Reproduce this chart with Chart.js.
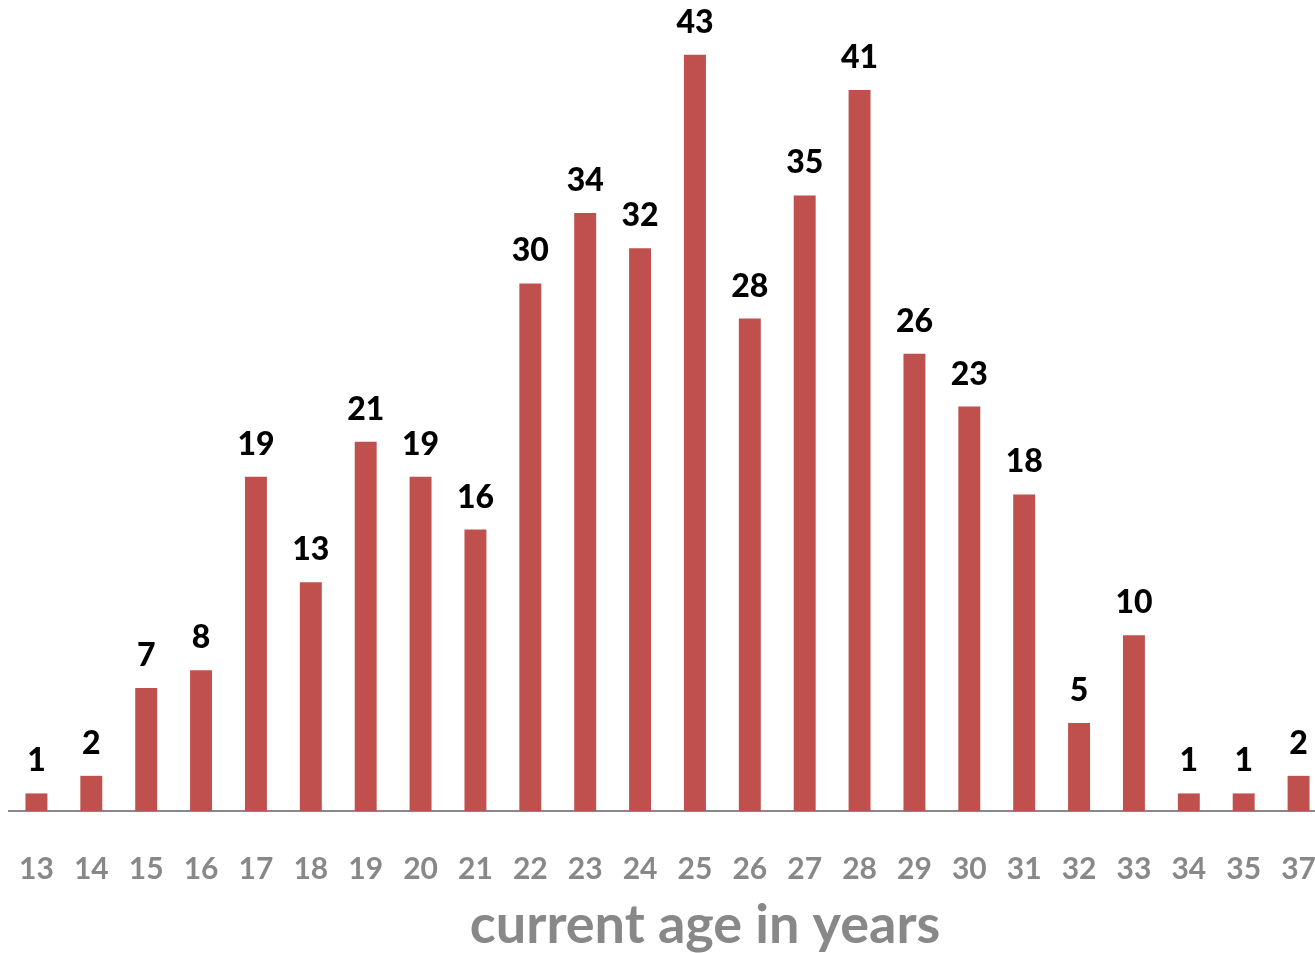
<!DOCTYPE html>
<html>
<head>
<meta charset="utf-8">
<script src="https://cdn.jsdelivr.net/npm/chart.js@4"></script>
<style>
  html, body { margin: 0; padding: 0; background: #fff; overflow: hidden; }
  canvas { display: block; }
</style>
</head>
<body>
<canvas id="ageChart" width="1330" height="953"></canvas>
<script>
const ages = ['13', '14', '15', '16', '17', '18', '19', '20', '21', '22', '23', '24',
  '25', '26', '27', '28', '29', '30', '31', '32', '33', '34', '35', '37'];
const counts = [1, 2, 7, 8, 19, 13, 21, 19, 16, 30, 34, 32,
  43, 28, 35, 41, 26, 23, 18, 5, 10, 1, 1, 2];
const axisTitle = 'current age in years';

const fontFamily = 'Lato, "Open Sans", sans-serif';

// value labels above each bar
const barLabels = {
  id: 'barLabels',
  afterDatasetsDraw(chart) {
    const c = chart.ctx;
    const meta = chart.getDatasetMeta(0);
    c.save();
    c.font = '900 32px ' + fontFamily;
    c.fillStyle = '#000';
    c.textAlign = 'center';
    c.textBaseline = 'alphabetic';
    meta.data.forEach((bar, i) => {
      c.fillText(counts[i], bar.x, bar.y - 22);
    });
    c.restore();
  }
};

// axis title, sits a bit right of centre like the original
const xTitle = {
  id: 'xTitle',
  afterDraw(chart) {
    const c = chart.ctx;
    c.save();
    c.font = 'bold 54px ' + fontFamily;
    c.fillStyle = '#888888';
    c.textAlign = 'center';
    c.textBaseline = 'alphabetic';
    c.fillText(axisTitle, 705, 943);
    c.restore();
  }
};

new Chart(document.getElementById('ageChart'), {
  type: 'bar',
  data: {
    labels: ages,
    datasets: [{
      data: counts,
      backgroundColor: '#C0504D',
      categoryPercentage: 1,
      barPercentage: 0.4
    }]
  },
  options: {
    responsive: false,
    animation: false,
    layout: { padding: { left: 9, right: 4, top: 2, bottom: 0 } },
    plugins: {
      legend: { display: false },
      tooltip: { enabled: false }
    },
    scales: {
      x: {
        grid: { display: false, drawTicks: false },
        border: { color: '#888888', width: 2 },
        ticks: {
          color: '#888888',
          padding: 40,
          maxRotation: 0,
          autoSkip: false,
          font: { family: fontFamily, size: 30, weight: 'bold' }
        },
        afterFit(scale) {
          scale.height = 142;
          // keep the tick padding from pushing the plot inwards
          scale.paddingLeft = 0;
          scale.paddingRight = 0;
        }
      },
      y: {
        display: false,
        min: 0,
        max: 46
      }
    }
  },
  plugins: [barLabels, xTitle]
});
</script>
</body>
</html>
